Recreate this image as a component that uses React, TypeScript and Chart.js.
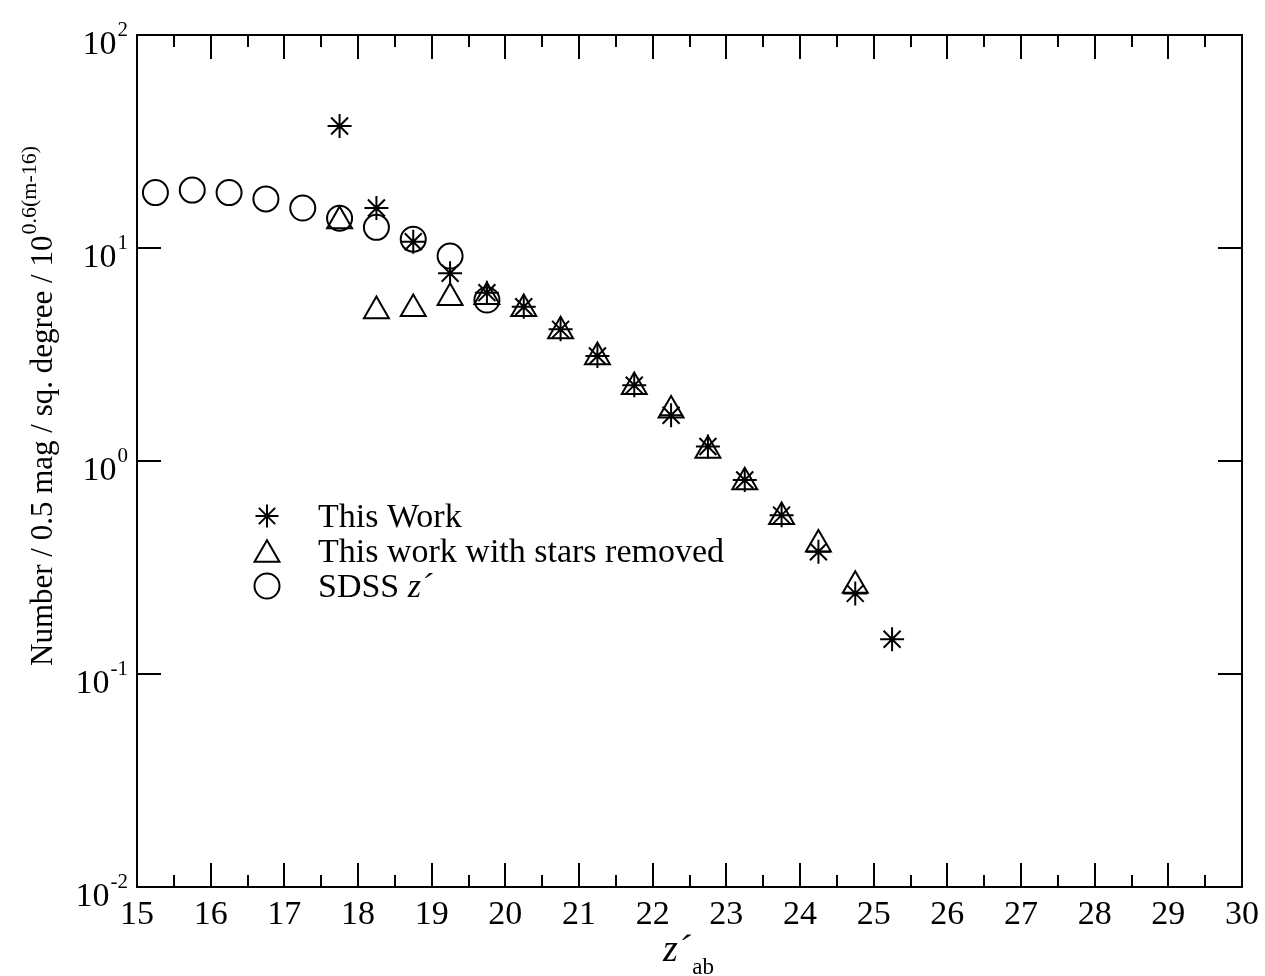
import React, { useEffect, useRef } from 'react';
import { Chart, registerables } from 'chart.js';

Chart.register(...registerables);

// ---- data ----
const thisWorkMag = [17.75, 18.25, 18.75, 19.25, 19.75, 20.25, 20.75, 21.25, 21.75, 22.25, 22.75, 23.25, 23.75, 24.25, 24.75, 25.25];
const thisWorkN = [37.4, 15.4, 10.7, 7.61, 6.17, 5.3, 4.15, 3.11, 2.27, 1.64, 1.17, 0.814, 0.557, 0.375, 0.239, 0.1455];

const starsRemovedMag = [17.75, 18.25, 18.75, 19.25, 19.75, 20.25, 20.75, 21.25, 21.75, 22.25, 22.75, 23.25, 23.75, 24.25, 24.75];
const starsRemovedN = [13.4, 5.06, 5.18, 5.84, 5.9, 5.18, 4.07, 3.08, 2.23, 1.73, 1.12, 0.796, 0.547, 0.406, 0.26];

const sdssMag = [15.25, 15.75, 16.25, 16.75, 17.25, 17.75, 18.25, 18.75, 19.25, 19.75];
const sdssN = [18.2, 18.7, 18.2, 17.0, 15.4, 13.8, 12.5, 11.0, 9.17, 5.7];

const xTickValues = [15, 16, 17, 18, 19, 20, 21, 22, 23, 24, 25, 26, 27, 28, 29, 30];
const xMinorTickValues = [15.5, 16.5, 17.5, 18.5, 19.5, 20.5, 21.5, 22.5, 23.5, 24.5, 25.5, 26.5, 27.5, 28.5, 29.5];
const yTickExponents = [-2, -1, 0, 1, 2];

const legendLabels = ['This Work', 'This work with stars removed', 'SDSS '];

const SERIF = '"Liberation Serif", "Times New Roman", serif';

function toPoints(xs: number[], ys: number[]) {
  return xs.map((x, i) => ({ x, y: ys[i] }));
}

function drawStar(ctx: CanvasRenderingContext2D, x: number, y: number, r: number) {
  ctx.beginPath();
  for (let k = 0; k < 4; k++) {
    const a = (k * Math.PI) / 4;
    ctx.moveTo(x - Math.cos(a) * r, y - Math.sin(a) * r);
    ctx.lineTo(x + Math.cos(a) * r, y + Math.sin(a) * r);
  }
  ctx.stroke();
}
function drawTriangle(ctx: CanvasRenderingContext2D, x: number, y: number, r: number) {
  ctx.beginPath();
  let rad = 0;
  ctx.moveTo(x + Math.sin(rad) * r, y - Math.cos(rad) * r);
  rad += (2 * Math.PI) / 3;
  ctx.lineTo(x + Math.sin(rad) * r, y - Math.cos(rad) * r);
  rad += (2 * Math.PI) / 3;
  ctx.lineTo(x + Math.sin(rad) * r, y - Math.cos(rad) * r);
  ctx.closePath();
  ctx.stroke();
}
function drawCircle(ctx: CanvasRenderingContext2D, x: number, y: number, r: number) {
  ctx.beginPath();
  ctx.arc(x, y, r, 0, Math.PI * 2);
  ctx.stroke();
}

const framePlugin = {
  id: 'gracePlotFrame',
  afterDraw(chart: any) {
    const ctx: CanvasRenderingContext2D = chart.ctx;
    const ca = chart.chartArea;
    const xs = chart.scales.x;
    const ys = chart.scales.y;
    ctx.save();
    ctx.strokeStyle = '#000';
    ctx.fillStyle = '#000';
    ctx.lineWidth = 2;
    ctx.lineCap = 'butt';
    // frame
    ctx.strokeRect(ca.left, ca.top, ca.right - ca.left, ca.bottom - ca.top);
    // ticks
    const majorLen = 24;
    const minorLen = 12;
    ctx.beginPath();
    xTickValues.forEach((v) => {
      const px = Math.round(xs.getPixelForValue(v));
      ctx.moveTo(px, ca.bottom);
      ctx.lineTo(px, ca.bottom - majorLen);
      ctx.moveTo(px, ca.top);
      ctx.lineTo(px, ca.top + majorLen);
    });
    xMinorTickValues.forEach((v) => {
      const px = Math.round(xs.getPixelForValue(v));
      ctx.moveTo(px, ca.bottom);
      ctx.lineTo(px, ca.bottom - minorLen);
      ctx.moveTo(px, ca.top);
      ctx.lineTo(px, ca.top + minorLen);
    });
    yTickExponents.forEach((e) => {
      const py = Math.round(ys.getPixelForValue(Math.pow(10, e)));
      ctx.moveTo(ca.left, py);
      ctx.lineTo(ca.left + majorLen, py);
      ctx.moveTo(ca.right, py);
      ctx.lineTo(ca.right - majorLen, py);
    });
    ctx.stroke();

    // x tick labels
    ctx.font = `34px ${SERIF}`;
    ctx.textAlign = 'center';
    ctx.textBaseline = 'alphabetic';
    xTickValues.forEach((v) => {
      const px = xs.getPixelForValue(v);
      ctx.fillText(String(v), px, ca.bottom + 37);
    });

    // y tick labels 10^e
    ctx.textAlign = 'left';
    yTickExponents.forEach((e) => {
      const py = ys.getPixelForValue(Math.pow(10, e));
      const sup = String(e);
      ctx.font = `21px ${SERIF}`;
      const ws = ctx.measureText(sup).width;
      ctx.font = `34px ${SERIF}`;
      const wm = ctx.measureText('10').width;
      const right = ca.left - 10;
      const x0 = right - ws - wm;
      ctx.fillText('10', x0, py + 19);
      ctx.font = `21px ${SERIF}`;
      ctx.fillText(sup, x0 + wm + 1, py + 1);
    });

    // y axis title (rotated)
    ctx.save();
    ctx.translate(52, 666);
    ctx.rotate(-Math.PI / 2);
    ctx.font = `31px ${SERIF}`;
    const mainTitle = 'Number / 0.5 mag / sq. degree / 10';
    const wt = ctx.measureText(mainTitle).width;
    ctx.fillText(mainTitle, 0, 0);
    ctx.font = `22px ${SERIF}`;
    ctx.fillText('0.6(m-16)', wt + 1, -16);
    ctx.restore();

    // x axis title z'_ab
    const cx = (ca.left + ca.right) / 2;
    ctx.font = `italic 38px ${SERIF}`;
    const wz = ctx.measureText('z´').width;
    ctx.font = `23px ${SERIF}`;
    const wab = ctx.measureText('ab').width;
    const startX = cx - (wz + wab) / 2 - 2;
    ctx.font = `italic 38px ${SERIF}`;
    ctx.fillText('z´', startX, 961);
    ctx.font = `23px ${SERIF}`;
    ctx.fillText('ab', startX + wz + 2, 974);

    // legend
    const symX = 267;
    const textX = 318;
    const rows = [516, 551, 586];
    ctx.lineWidth = 2;
    drawStar(ctx, symX, rows[0], 11.5);
    drawTriangle(ctx, symX, rows[1] + 3.6, 14.4);
    drawCircle(ctx, symX, rows[2], 12.5);
    ctx.font = `34px ${SERIF}`;
    ctx.textAlign = 'left';
    ctx.fillText(legendLabels[0], textX, rows[0] + 11);
    ctx.fillText(legendLabels[1], textX, rows[1] + 11);
    ctx.fillText(legendLabels[2], textX, rows[2] + 11);
    const wsd = ctx.measureText(legendLabels[2]).width;
    ctx.font = `italic 34px ${SERIF}`;
    ctx.fillText('z´', textX + wsd, rows[2] + 11);

    ctx.restore();
  },
};

export default function App() {
  const canvasRef = useRef<HTMLCanvasElement | null>(null);

  useEffect(() => {
    const canvas = canvasRef.current;
    if (!canvas) return;
    const chart = new Chart(canvas, {
      type: 'scatter',
      data: {
        datasets: [
          {
            label: 'SDSS z´',
            data: toPoints(sdssMag, sdssN),
            pointStyle: 'circle',
            pointRadius: 12.5,
            pointHoverRadius: 12.5,
            borderColor: '#000',
            backgroundColor: 'rgba(0,0,0,0)',
            borderWidth: 2,
            showLine: false,
          },
          {
            label: 'This work with stars removed',
            data: toPoints(starsRemovedMag, starsRemovedN),
            pointStyle: 'triangle',
            pointRadius: 14.4,
            pointHoverRadius: 14.4,
            borderColor: '#000',
            backgroundColor: 'rgba(0,0,0,0)',
            borderWidth: 2,
            showLine: false,
          },
          {
            label: 'This Work',
            data: toPoints(thisWorkMag, thisWorkN),
            pointStyle: 'star',
            pointRadius: 12,
            pointHoverRadius: 12,
            borderColor: '#000',
            backgroundColor: 'rgba(0,0,0,0)',
            borderWidth: 2,
            showLine: false,
          },
        ],
      },
      options: {
        responsive: false,
        animation: false,
        devicePixelRatio: 1,
        layout: { padding: { left: 137, right: 23, top: 35, bottom: 89 } },
        plugins: {
          legend: { display: false },
          tooltip: { enabled: false },
          title: { display: false },
        },
        events: [],
        scales: {
          x: { type: 'linear', min: 15, max: 30, display: false },
          y: { type: 'logarithmic', min: 0.01, max: 100, display: false },
        },
      },
      plugins: [framePlugin],
    });
    return () => chart.destroy();
  }, []);

  return (
    <div style={{ position: 'fixed', left: 0, top: 0, width: 1265, height: 976, background: '#fff' }}>
      <canvas ref={canvasRef} width={1265} height={976} style={{ display: 'block', width: 1265, height: 976 }} />
    </div>
  );
}
